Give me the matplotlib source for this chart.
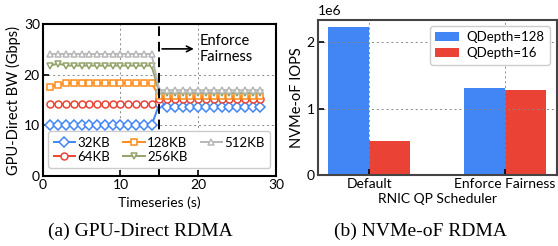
import matplotlib
matplotlib.use('Agg')
import matplotlib.pyplot as plt
import numpy as np

plt.rcParams['font.family'] = ['Lato', 'DejaVu Sans']
plt.rcParams['font.size'] = 10

# Left: GPU-Direct RDMA bandwidth per message size
timeSteps = list(range(1, 29))
bw32 = [10.0] * 14 + [14.2] + [13.7] * 13
bw64 = [14.2] * 14 + [15.2] * 14
bw128 = [17.6, 18.0] + [18.3] * 12 + [15.7] * 14
bw256 = [21.8, 22.2] + [21.8] * 12 + [16.4] * 14
bw512 = [24.1] * 14 + [16.9] * 14
seriesLabels = ['32KB', '64KB', '128KB', '256KB', '512KB']

# Right: NVMe-oF IOPS per scheduler
schedulers = ['Default', 'Enforce Fairness']
iopsQD128 = [2.23e6, 1.31e6]
iopsQD16 = [0.51e6, 1.28e6]

colors = {'32KB': '#4285F4', '64KB': '#EA4335', '128KB': '#FF8C1A',
          '256KB': '#94A36A', '512KB': '#B8B8B8'}
markers = {'32KB': 'D', '64KB': 'o', '128KB': 's', '256KB': 'v', '512KB': '^'}

fig = plt.figure(figsize=(5.58, 2.46), dpi=100)
ax1 = fig.add_axes([0.0765, 0.2846, 0.418, 0.6175])
ax2 = fig.add_axes([0.569, 0.2886, 0.4287, 0.6321])

allBW = [bw32, bw64, bw128, bw256, bw512]
for label, vals in zip(seriesLabels, allBW):
    ax1.plot(timeSteps, vals, color=colors[label], marker=markers[label],
             markersize=5, markerfacecolor='white', markeredgewidth=1.1,
             linewidth=1.4, label=label)

ax1.axvline(15, color='black', linestyle=(0, (5, 3)), linewidth=1.4)
ax1.annotate('', xy=(19.8, 25.1), xytext=(15, 25.1),
             arrowprops=dict(arrowstyle='->', color='black', lw=1.2))
ax1.text(20.2, 25.1, 'Enforce\nFairness', ha='left', va='center', fontsize=10.5)

ax1.set_xlim(0, 30)
ax1.set_ylim(0, 30)
ax1.set_xticks([0, 10, 20, 30])
ax1.set_yticks([0, 10, 20, 30])
ax1.grid(True, linestyle=(0, (2, 3)), color='#888888', linewidth=0.7)
ax1.tick_params(direction='in', length=4, width=1.2, labelsize=10, pad=2)
for sp in ax1.spines.values():
    sp.set_linewidth(1.5)
ax1.set_xlabel('Timeseries (s)', fontsize=10, labelpad=4)
ax1.set_ylabel('GPU-Direct BW (Gbps)', fontsize=10.5, labelpad=2)
ax1.legend(loc='lower center', ncol=3, fontsize=9.5, handlelength=1.6,
           handletextpad=0.2, columnspacing=1.0, labelspacing=0.15,
           borderpad=0.4, frameon=True, fancybox=True, framealpha=1,
           edgecolor='#cccccc', bbox_to_anchor=(0.5, 0.01))

x = np.arange(len(schedulers))
barWidth = 0.3
ax2.bar(x - barWidth / 2, iopsQD128, barWidth, color='#4285F4', label='QDepth=128')
ax2.bar(x + barWidth / 2, iopsQD16, barWidth, color='#EA4335', label='QDepth=16')
ax2.set_xlim(-0.38, 1.38)
ax2.set_ylim(0, 2.345e6)
ax2.set_xticks(x)
ax2.set_xticklabels(schedulers)
ax2.set_yticks([0, 1e6, 2e6])
ax2.grid(True, linestyle=(0, (2, 3)), color='#888888', linewidth=0.7)
ax2.tick_params(direction='in', length=4, width=1.2, labelsize=10, pad=2)
for sp in ax2.spines.values():
    sp.set_linewidth(1.5)
    sp.set_color('#444444')
ax2.set_xlabel('RNIC QP Scheduler', fontsize=10, labelpad=2)
ax2.set_ylabel('NVMe-oF IOPS', fontsize=10.5, labelpad=2)
ax2.yaxis.get_offset_text().set_fontsize(10)
ax2.legend(loc='upper right', fontsize=9.5, handlelength=1.8,
           handletextpad=0.6, labelspacing=0.3, borderpad=0.4,
           fancybox=True, framealpha=1, edgecolor='#cccccc')

fig.text(0.251, 0.06, '(a) GPU-Direct RDMA', ha='center', va='center',
         fontsize=14, family='Liberation Serif')
fig.text(0.754, 0.06, '(b) NVMe-oF RDMA', ha='center', va='center',
         fontsize=14, family='Liberation Serif')

plt.savefig('out.png', dpi=100)
plt.close()
